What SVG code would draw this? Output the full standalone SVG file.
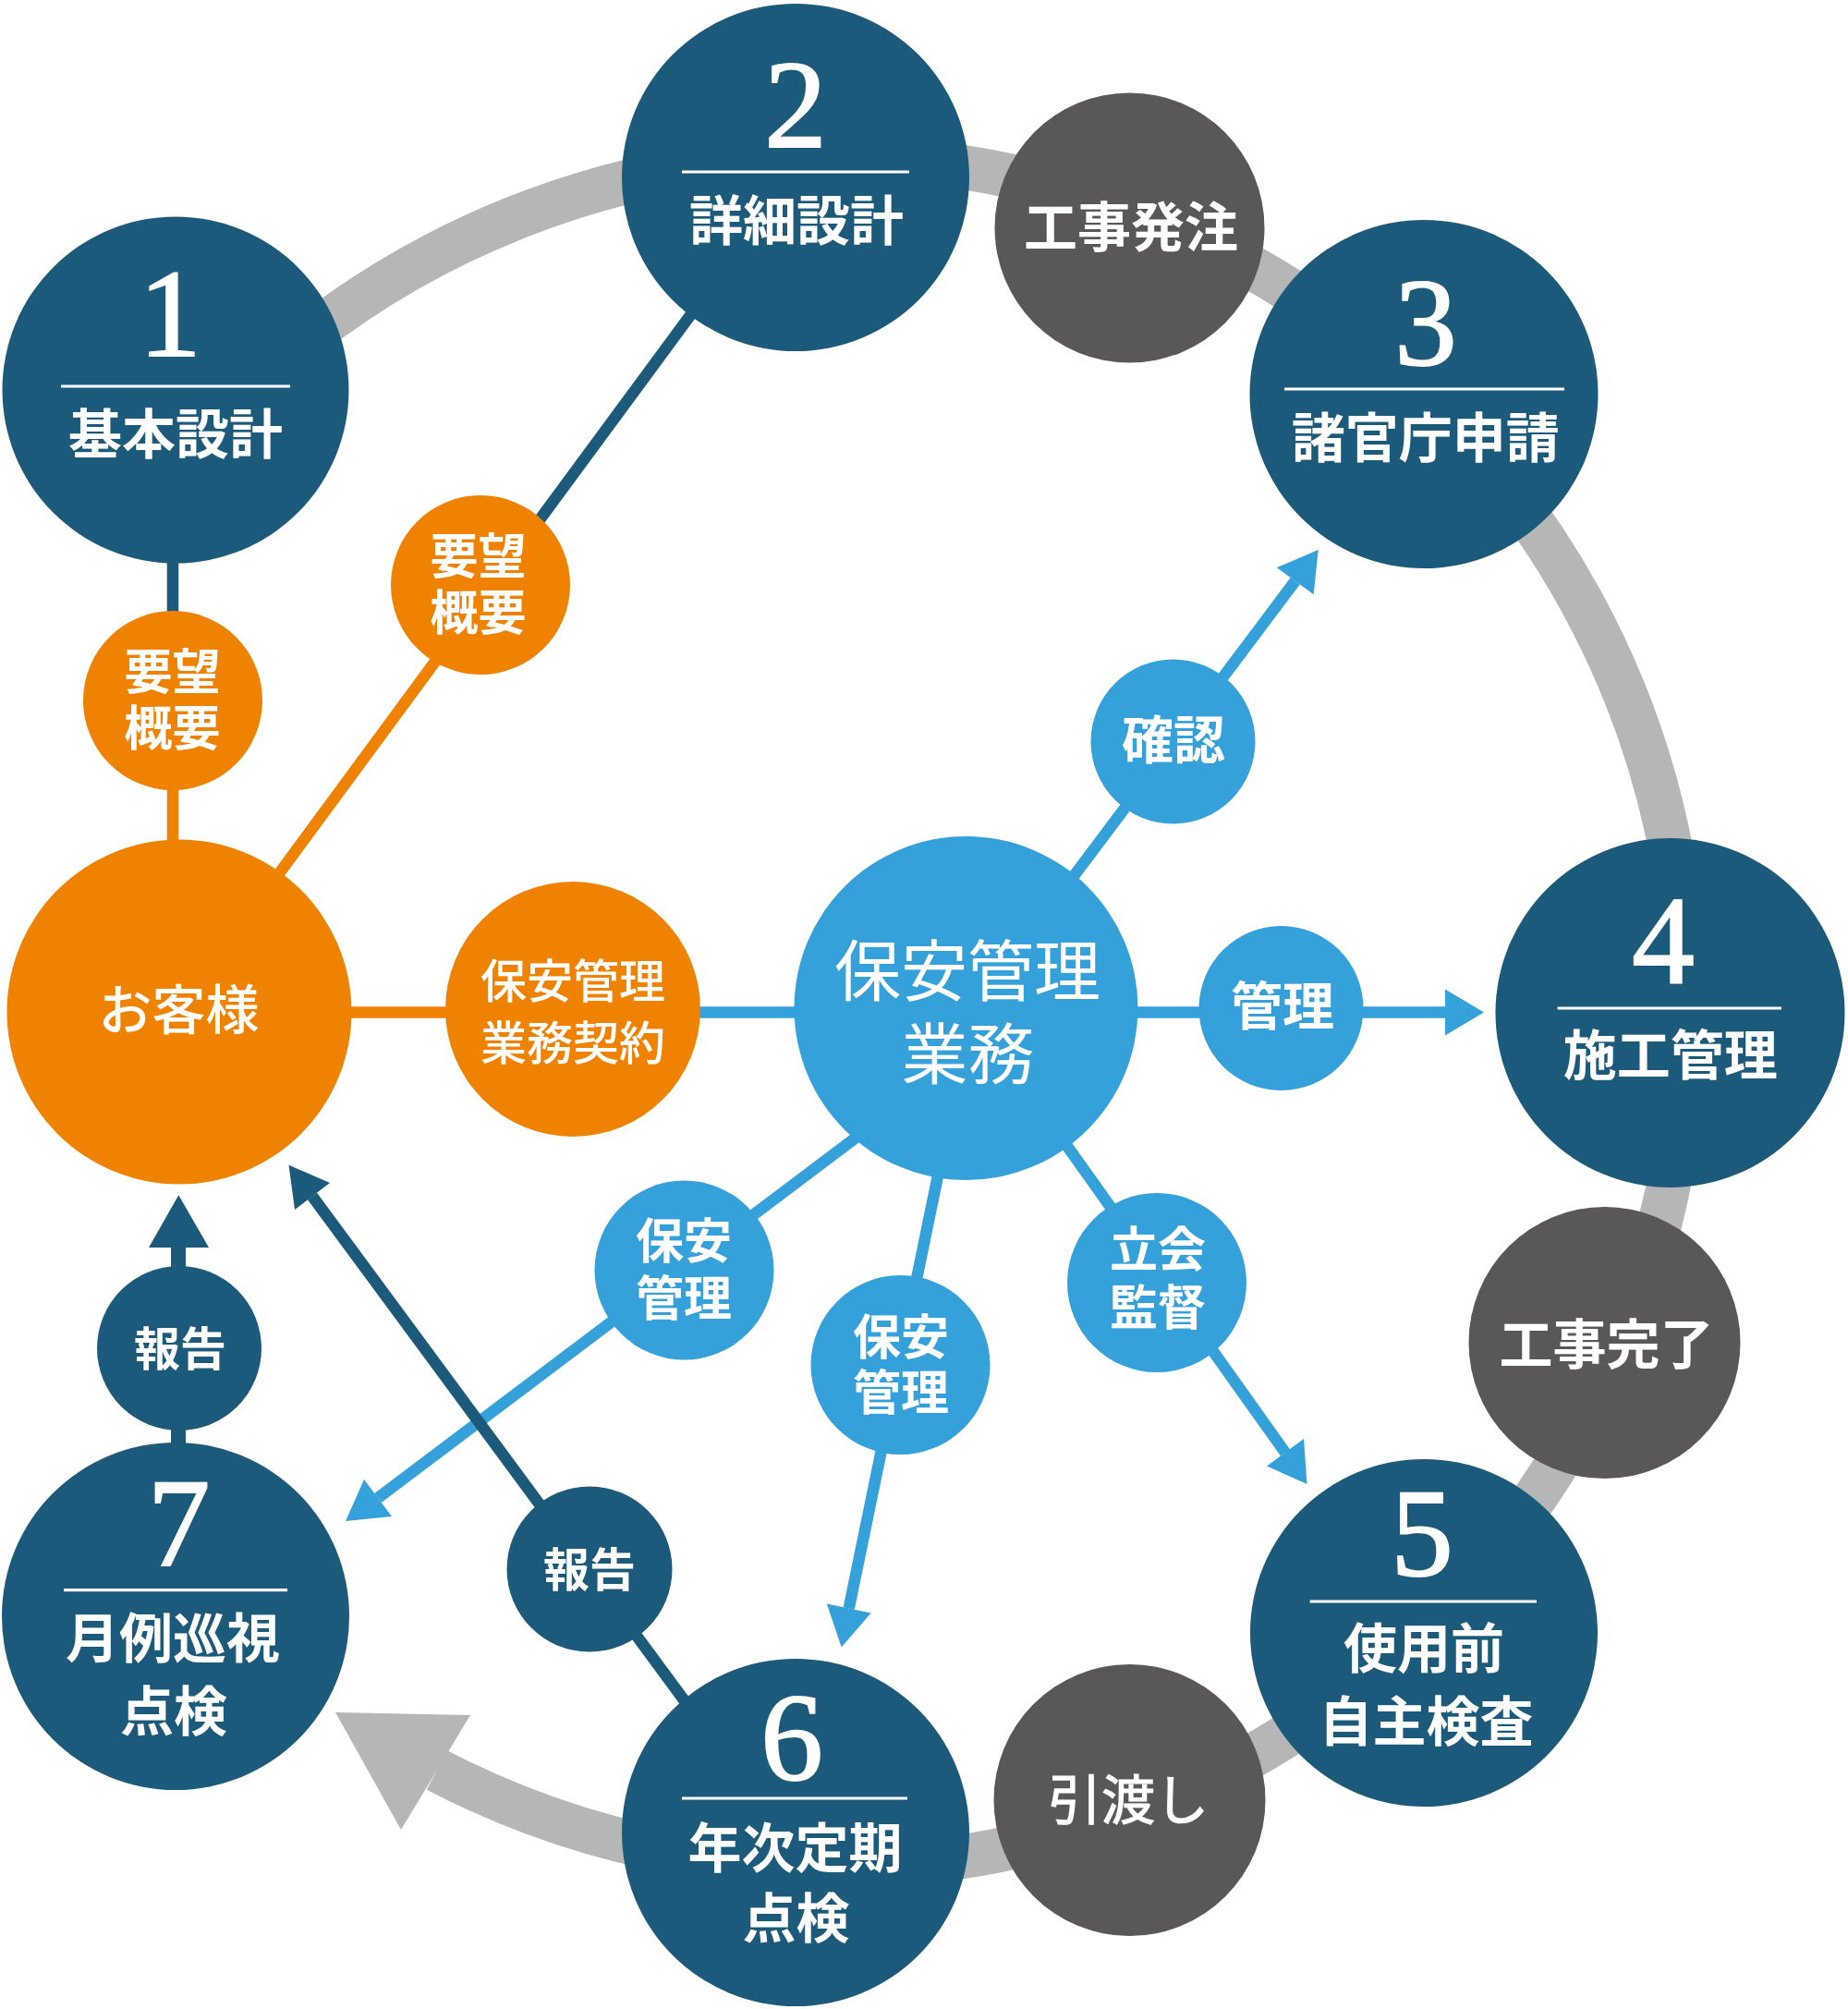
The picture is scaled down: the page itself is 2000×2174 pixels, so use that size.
<svg xmlns="http://www.w3.org/2000/svg" width="2000" height="2174" viewBox="0 0 2000 2174">
<style>
.dk{fill:#1c5a7c}
.or{fill:#ef8200}
.lb{fill:#35a1db}
.gy{fill:#595857}
.num{font-family:"Liberation Serif","Times New Roman",serif;font-size:135px;fill:#fff;stroke:#fff;stroke-width:2;text-anchor:middle}
.t{font-family:"Noto Sans CJK JP","Noto Sans",sans-serif;font-weight:700;fill:#fff;text-anchor:middle}
.t58{font-size:58px}
.t56{font-size:56px}
.t52{font-size:52px}
.t50{font-size:50px}
.tr{font-weight:400}
.rule{stroke:#fff;stroke-width:3.2}
.ln{fill:none;stroke-width:12.5}
.ldk{stroke:#1c5a7c}
.lor{stroke:#ef8200}
.llb{stroke:#35a1db}
</style>
<rect width="2000" height="2174" fill="#fff"/>
<g id="ring">
<path d="M 281.1 407.6 A 925 925 0 1 1 472.9 1915.5" fill="none" stroke="#b5b6b5" stroke-width="48"/>
<polygon points="509,1856 434,1980 363,1853" fill="#b5b6b5"/>
</g>
<g id="connectors">
<line class="ln ldk" x1="187" y1="600" x2="187" y2="700"/>
<line class="ln lor" x1="187" y1="800" x2="187" y2="960"/>
<line class="ln ldk" x1="860.7" y1="187" x2="532" y2="633"/>
<line class="ln lor" x1="532" y1="633" x2="199.8" y2="1084"/>
<line class="ln lor" x1="194" y1="1095.5" x2="620" y2="1095.5"/>
<line class="ln llb" x1="620" y1="1095.5" x2="1045" y2="1095.5"/>
<line class="ln llb" x1="1099" y1="1032" x2="1401.7" y2="628.8"/>
<polygon class="lb" points="1426.7,595 1381.7,614.3 1421.7,643.3"/>
<line class="ln llb" x1="1045" y1="1095.5" x2="1566" y2="1095.5"/>
<polygon class="lb" points="1564,1070.5 1606,1095.5 1564,1120.5"/>
<line class="ln llb" x1="1100" y1="1163" x2="1391" y2="1572"/>
<polygon class="lb" points="1414.5,1606 1371,1586.6 1411,1557"/>
<line class="ln llb" x1="990" y1="1183" x2="409" y2="1621"/>
<polygon class="lb" points="374,1646 394,1601 424,1641"/>
<line class="ln llb" x1="1020" y1="1248" x2="918.7" y2="1740.6"/>
<polygon class="lb" points="910.7,1782.5 894.8,1735.6 942.6,1745.5"/>
<line class="ln ldk" x1="770" y1="1880" x2="338" y2="1294.5"/>
<polygon class="dk" points="312.5,1260.7 357,1280 319,1309"/>
<line class="ln ldk" style="stroke-width:16" x1="193" y1="1620" x2="193" y2="1348"/>
<polygon class="dk" points="161,1350 193.3,1293.3 226,1350"/>
</g>
<g id="node1">
<circle class="dk" cx="190" cy="422" r="187.5"/>
<text class="num" x="184" y="385">1</text>
<line class="rule" x1="66" y1="418" x2="314" y2="418"/>
<text class="t t58" x="190" y="491">基本設計</text>
</g>
<g id="node2">
<circle class="dk" cx="861" cy="192" r="188"/>
<text class="num" x="861" y="158.5">2</text>
<line class="rule" x1="738" y1="186" x2="984" y2="186"/>
<text class="t t58" x="862" y="260">詳細設計</text>
</g>
<g id="order">
<circle class="gy" cx="1222.5" cy="246.5" r="146"/>
<text class="t t58" x="1224" y="267">工事発注</text>
</g>
<g id="node3">
<circle class="dk" cx="1541" cy="426.5" r="188.5"/>
<text class="num" x="1543" y="395">3</text>
<line class="rule" x1="1390" y1="421" x2="1693" y2="421"/>
<text class="t t58" x="1542.7" y="495">諸官庁申請</text>
</g>
<g id="node4">
<circle class="dk" cx="1807.5" cy="1096" r="189"/>
<text class="num" x="1800" y="1064">4</text>
<line class="rule" x1="1685.6" y1="1091" x2="1928" y2="1091"/>
<text class="t t58" x="1807.7" y="1163">施工管理</text>
</g>
<g id="complete">
<circle class="gy" cx="1736.5" cy="1453" r="147"/>
<text class="t t58" x="1738.4" y="1476">工事完了</text>
</g>
<g id="node5">
<circle class="dk" cx="1541" cy="1767" r="188"/>
<text class="num" x="1539" y="1705">5</text>
<line class="rule" x1="1417.7" y1="1733" x2="1663" y2="1733"/>
<text class="t t58" x="1541" y="1805">使用前</text>
<text class="t t58" x="1543.5" y="1884">自主検査</text>
</g>
<g id="handover">
<circle class="gy" cx="1222.5" cy="1948" r="147"/>
<text class="t t58 tr" style="stroke:#fff;stroke-width:1.2" x="1221" y="1969">引渡し</text>
</g>
<g id="node6">
<circle class="dk" cx="861" cy="1983" r="188"/>
<text class="num" x="857" y="1926">6</text>
<line class="rule" x1="738" y1="1946" x2="982" y2="1946"/>
<text class="t t58" x="860.4" y="2021">年次定期</text>
<text class="t t58" x="861.5" y="2097">点検</text>
</g>
<g id="node7">
<circle class="dk" cx="190" cy="1749" r="188"/>
<text class="num" x="193.5" y="1694">7</text>
<line class="rule" x1="69" y1="1720.7" x2="311" y2="1720.7"/>
<text class="t t58" x="187" y="1794">月例巡視</text>
<text class="t t58" x="188" y="1873">点検</text>
</g>
<g id="customer">
<circle class="or" cx="194" cy="1095" r="186.5"/>
<text class="t t58" style="font-weight:500" x="193.5" y="1114">お客様</text>
</g>
<g id="request1">
<circle class="or" cx="187" cy="758" r="97"/>
<text class="t t52" x="186.5" y="746">要望</text>
<text class="t t52" x="186.5" y="806.5">概要</text>
</g>
<g id="request2">
<circle class="or" cx="520" cy="633" r="97"/>
<text class="t t52" x="517.5" y="620.5">要望</text>
<text class="t t52" x="517.5" y="682">概要</text>
</g>
<g id="contract">
<circle class="or" cx="620" cy="1092" r="138"/>
<text class="t t50" style="font-weight:500" x="620" y="1080">保安管理</text>
<text class="t t50" style="font-weight:500" x="620" y="1147">業務契約</text>
</g>
<g id="security">
<circle class="lb" cx="1045.5" cy="1091" r="186"/>
<text class="t tr" style="font-size:72px" x="1047" y="1077">保安管理</text>
<text class="t tr" style="font-size:72px" x="1047.5" y="1167">業務</text>
</g>
<g id="confirm">
<circle class="lb" cx="1269.5" cy="802.5" r="89"/>
<text class="t t56" x="1270" y="820.5">確認</text>
</g>
<g id="manage">
<circle class="lb" cx="1386.5" cy="1091" r="89"/>
<text class="t t56" x="1388" y="1108.5">管理</text>
</g>
<g id="witness">
<circle class="lb" cx="1252" cy="1388" r="97"/>
<text class="t t52" x="1253" y="1371">立会</text>
<text class="t t52" x="1253" y="1434">監督</text>
</g>
<g id="security-left">
<circle class="lb" cx="740.5" cy="1374.5" r="97"/>
<text class="t t52" x="740" y="1362">保安</text>
<text class="t t52" x="740" y="1424">管理</text>
</g>
<g id="security-low">
<circle class="lb" cx="974.5" cy="1477" r="97"/>
<text class="t t52" x="975" y="1465.5">保安</text>
<text class="t t52" x="975" y="1526">管理</text>
</g>
<g id="report1">
<circle class="dk" cx="194" cy="1459" r="89"/>
<text class="t t50" x="195" y="1477.5">報告</text>
</g>
<g id="report2">
<circle class="dk" cx="638" cy="1698" r="89.5"/>
<text class="t t50" x="638" y="1717">報告</text>
</g>
</svg>
